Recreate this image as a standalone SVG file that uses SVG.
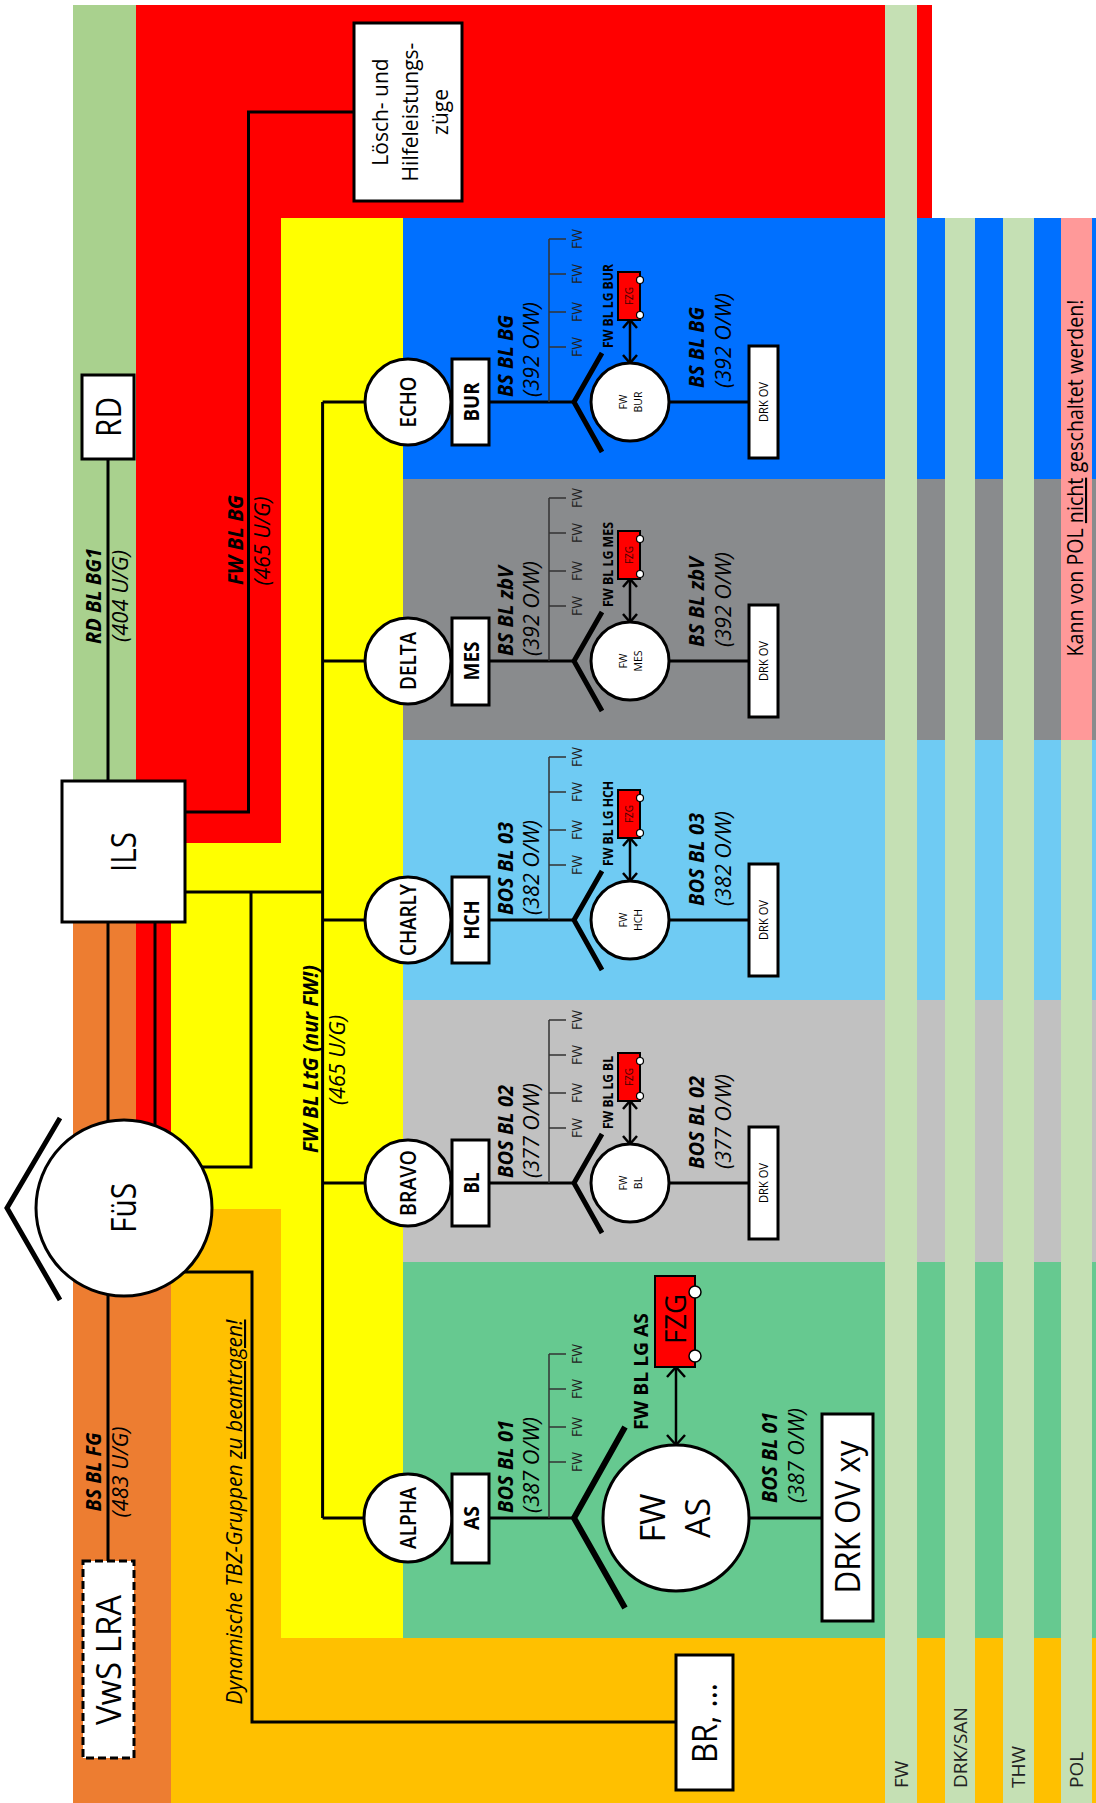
<svg xmlns="http://www.w3.org/2000/svg" width="1096" height="1803" viewBox="0 0 1096 1803">
<defs>
<style>
text{font-family:"Open Sans","Noto Sans","DejaVu Sans",sans-serif;fill:#000}
.ln{fill:none;stroke:#000;stroke-width:3}
.thin{fill:none;stroke:#333;stroke-width:1.5}
.box{fill:#fff;stroke:#000;stroke-width:3}
.cir{fill:#fff;stroke:#000;stroke-width:3}
.chev{fill:none;stroke:#000;stroke-width:5}
.fzg{fill:#ff0000;stroke:#000;stroke-width:2}
.dot{fill:#fff;stroke:#000;stroke-width:1.2}
.arr{fill:none;stroke:#000;stroke-width:2.5;marker-start:url(#ah);marker-end:url(#ah)}
.arrb{fill:none;stroke:#000;stroke-width:2.5;marker-start:url(#ahb);marker-end:url(#ahb)}
.nm{font-size:21px;font-weight:600;text-anchor:middle}
.bx{font-size:21px;font-weight:700;text-anchor:middle}
.bi{font-size:22px;font-weight:700;font-style:italic}
.it{font-size:22px;font-style:italic}
.tk{font-size:15px;text-anchor:middle;fill:#222}
.lg{font-size:13.5px;font-weight:700}
.sm{font-size:10.5px;text-anchor:middle}
.dk{font-size:12.5px;text-anchor:middle}
.fz{font-size:10px;text-anchor:middle;fill:#400}
.big{font-size:34px;text-anchor:middle}
.st{fill:#c5e0b4}
.sl{font-size:19px;fill:#222}
</style>
<marker id="ah" markerUnits="userSpaceOnUse" markerWidth="14" markerHeight="18" refX="11" refY="9" orient="auto-start-reverse"><path d="M3,2 L11,9 L3,16" fill="none" stroke="#000" stroke-width="2.5"/></marker>
<marker id="ahb" markerUnits="userSpaceOnUse" markerWidth="16" markerHeight="22" refX="13" refY="11" orient="auto-start-reverse"><path d="M3,2 L13,11 L3,20" fill="none" stroke="#000" stroke-width="2.5"/></marker>
</defs>

<g id="bands">
<rect x="73" y="5" width="63" height="800" fill="#a9d18e"/>
<rect x="136" y="5" width="796" height="213" fill="#ff0000"/>
<rect x="136" y="5" width="145" height="838" fill="#ff0000"/>
<rect x="73" y="900" width="98" height="903" fill="#ed7d31"/>
<rect x="136" y="843" width="35" height="365" fill="#ff0000"/>
<rect x="171" y="843" width="232" height="366" fill="#ffff00"/>
<rect x="171" y="1209" width="925" height="594" fill="#ffc000"/>
<rect x="281" y="218" width="122" height="1420" fill="#ffff00"/>
<rect x="403" y="218" width="693" height="261" fill="#0070ff"/>
<rect x="403" y="479" width="693" height="261" fill="#898b8d"/>
<rect x="403" y="740" width="693" height="260" fill="#6fcbf3"/>
<rect x="403" y="1000" width="693" height="262" fill="#c1c1c1"/>
<rect x="403" y="1262" width="693" height="376" fill="#66c990"/>
<rect class="st" x="885" y="5" width="32" height="1798"/>
<rect class="st" x="945" y="218" width="30" height="1585"/>
<rect class="st" x="1003" y="218" width="31" height="1585"/>
<rect class="st" x="1061" y="218" width="31" height="1585"/>
<rect x="1061" y="218" width="31" height="522" fill="#ff9999"/>
</g>

<g id="band-labels">
<text class="bi" style="font-size:21px" text-anchor="middle" textLength="96" lengthAdjust="spacingAndGlyphs" transform="translate(101,596) rotate(-90)">RD BL BG1</text>
<text class="it" text-anchor="middle" textLength="92" lengthAdjust="spacingAndGlyphs" transform="translate(128,596) rotate(-90)">(404 U/G)</text>
<text class="bi" style="font-size:21px" text-anchor="middle" textLength="90" lengthAdjust="spacingAndGlyphs" transform="translate(243,540) rotate(-90)">FW BL BG</text>
<text class="it" text-anchor="middle" textLength="89" lengthAdjust="spacingAndGlyphs" transform="translate(270,541) rotate(-90)">(465 U/G)</text>
<text class="bi" style="font-size:21px" text-anchor="middle" textLength="188" lengthAdjust="spacingAndGlyphs" transform="translate(318,1059) rotate(-90)">FW BL LtG (nur FW!)</text>
<text class="it" text-anchor="middle" textLength="90" lengthAdjust="spacingAndGlyphs" transform="translate(345,1060) rotate(-90)">(465 U/G)</text>
<text class="bi" style="font-size:21px" text-anchor="middle" textLength="79" lengthAdjust="spacingAndGlyphs" transform="translate(101,1472) rotate(-90)">BS BL FG</text>
<text class="it" text-anchor="middle" textLength="91" lengthAdjust="spacingAndGlyphs" transform="translate(128,1472) rotate(-90)">(483 U/G)</text>
<text class="it" style="font-size:21px" text-anchor="middle" textLength="385" lengthAdjust="spacingAndGlyphs" transform="translate(242,1512) rotate(-90)">Dynamische TBZ-Gruppen <tspan text-decoration="underline">zu beantragen!</tspan></text>
<text style="font-size:21px" text-anchor="middle" textLength="357" lengthAdjust="spacingAndGlyphs" transform="translate(1083,478) rotate(-90)">Kann von POL <tspan text-decoration="underline">nicht</tspan> geschaltet werden!</text>
<text class="sl" transform="translate(908,1788) rotate(-90)">FW</text>
<text class="sl" transform="translate(967,1788) rotate(-90)">DRK/SAN</text>
<text class="sl" transform="translate(1025,1788) rotate(-90)">THW</text>
<text class="sl" transform="translate(1083,1788) rotate(-90)">POL</text>
</g>

<g id="connectors">
<path class="ln" d="M108,459 V781"/>
<path class="ln" d="M354,112 H248.5 V812 H185"/>
<path class="ln" d="M185,892 H322.6"/>
<path class="ln" d="M322.6,402 V1518"/>
<path class="ln" d="M251,892 V1167 H202"/>
<path class="ln" d="M108,922 V1121"/>
<path class="ln" d="M155,922 V1126"/>
<path class="ln" d="M108,1295 V1561"/>
<path class="ln" d="M184,1272 H252 V1722 H676"/>
<path class="ln" d="M322.6,402 H365 M489,402 H574 M669,402 H749"/>
<path class="thin" d="M549,402 V239 M549,239 H566 M549,274 H566 M549,312 H566 M549,347 H566"/>
<path class="arr" d="M630,320 V363"/>
<path class="ln" d="M322.6,661 H365 M489,661 H574 M669,661 H749"/>
<path class="thin" d="M549,661 V498 M549,498 H566 M549,533 H566 M549,571 H566 M549,606 H566"/>
<path class="arr" d="M630,579 V622"/>
<path class="ln" d="M322.6,920 H365 M489,920 H574 M669,920 H749"/>
<path class="thin" d="M549,920 V757 M549,757 H566 M549,792 H566 M549,830 H566 M549,865 H566"/>
<path class="arr" d="M630,838 V881"/>
<path class="ln" d="M322.6,1183 H365 M489,1183 H574 M669,1183 H749"/>
<path class="thin" d="M549,1183 V1020 M549,1020 H566 M549,1055 H566 M549,1093 H566 M549,1128 H566"/>
<path class="arr" d="M630,1101 V1144"/>
<path class="ln" d="M322.6,1518 H364 M489,1518 H574 M749,1518 H822"/>
<path class="thin" d="M549,1518 V1354 M549,1354 H566 M549,1389 H566 M549,1427 H566 M549,1462 H566"/>
<path class="arrb" d="M676,1367 V1445"/>
</g>

<g id="loesch">
<rect class="box" x="354" y="23" width="108" height="178"/>
<text style="font-size:21px" text-anchor="middle" transform="translate(388,112) rotate(-90)">Lösch- und</text>
<text style="font-size:21px" text-anchor="middle" transform="translate(418,112) rotate(-90)">Hilfeleistungs-</text>
<text style="font-size:21px" text-anchor="middle" transform="translate(448,112) rotate(-90)">züge</text>
</g>

<g id="rd">
<rect class="box" x="82" y="375" width="52" height="84"/>
<text class="big" textLength="40" lengthAdjust="spacingAndGlyphs" transform="translate(121,417) rotate(-90)">RD</text>
</g>

<g id="ils">
<rect class="box" x="62" y="781" width="123" height="141"/>
<text class="big" textLength="40" lengthAdjust="spacingAndGlyphs" transform="translate(136,852) rotate(-90)">ILS</text>
</g>

<g id="fues">
<polyline class="chev" points="60,1118 7,1208 60,1300"/>
<circle class="cir" cx="124" cy="1208" r="88"/>
<text class="big" textLength="50" lengthAdjust="spacingAndGlyphs" transform="translate(136,1208) rotate(-90)">FüS</text>
</g>

<g id="vws-lra">
<rect x="83" y="1561" width="51" height="197" fill="#fff" stroke="#000" stroke-width="3" stroke-dasharray="8,4"/>
<text class="big" textLength="130" lengthAdjust="spacingAndGlyphs" transform="translate(121,1660) rotate(-90)">VwS LRA</text>
</g>

<g id="br">
<rect class="box" x="676" y="1655" width="57" height="135"/>
<text class="big" textLength="80" lengthAdjust="spacingAndGlyphs" transform="translate(717,1723) rotate(-90)">BR, ...</text>
</g>

<g id="echo">
<circle class="cir" cx="408" cy="402" r="43"/>
<text class="nm" textLength="51" lengthAdjust="spacingAndGlyphs" transform="translate(416,402) rotate(-90)">ECHO</text>
</g>
<g id="bur">
<rect class="box" x="452" y="359" width="37" height="86"/>
<text class="bx" textLength="39" lengthAdjust="spacingAndGlyphs" transform="translate(478.5,402) rotate(-90)">BUR</text>
</g>
<g id="fw-bur">
<polyline class="chev" points="602,353 574,402 602,452"/>
<circle class="cir" cx="630" cy="402" r="39"/>
<text class="sm" transform="translate(626.5,402) rotate(-90)">FW</text>
<text class="sm" transform="translate(641.5,402) rotate(-90)">BUR</text>
<text class="tk" textLength="20" lengthAdjust="spacingAndGlyphs" transform="translate(582,239) rotate(-90)">FW</text>
<text class="tk" textLength="20" lengthAdjust="spacingAndGlyphs" transform="translate(582,274) rotate(-90)">FW</text>
<text class="tk" textLength="20" lengthAdjust="spacingAndGlyphs" transform="translate(582,312) rotate(-90)">FW</text>
<text class="tk" textLength="20" lengthAdjust="spacingAndGlyphs" transform="translate(582,347) rotate(-90)">FW</text>
</g>
<g id="fzg-bur">
<rect class="fzg" x="618" y="272" width="22" height="48"/>
<circle class="dot" cx="640" cy="280" r="3.5"/>
<circle class="dot" cx="640" cy="315" r="3.5"/>
<text class="fz" transform="translate(632.5,296) rotate(-90)">FZG</text>
<text class="lg" textLength="84" lengthAdjust="spacingAndGlyphs" transform="translate(613,348) rotate(-90)">FW BL LG BUR</text>
</g>
<g id="drk-bur">
<rect class="box" x="749" y="346" width="29" height="112"/>
<text class="dk" textLength="40" lengthAdjust="spacingAndGlyphs" transform="translate(768,402) rotate(-90)">DRK OV</text>
</g>
<g id="lbl-echo">
<text class="bi" textLength="82" lengthAdjust="spacingAndGlyphs" transform="translate(513,397) rotate(-90)">BS BL BG</text>
<text class="it" textLength="95" lengthAdjust="spacingAndGlyphs" transform="translate(539,397) rotate(-90)">(392 O/W)</text>
<text class="bi" textLength="81" lengthAdjust="spacingAndGlyphs" transform="translate(704,388) rotate(-90)">BS BL BG</text>
<text class="it" textLength="95" lengthAdjust="spacingAndGlyphs" transform="translate(731,388) rotate(-90)">(392 O/W)</text>
</g>

<g id="delta">
<circle class="cir" cx="408" cy="661" r="43"/>
<text class="nm" textLength="58" lengthAdjust="spacingAndGlyphs" transform="translate(416,661) rotate(-90)">DELTA</text>
</g>
<g id="mes">
<rect class="box" x="452" y="618" width="37" height="87"/>
<text class="bx" textLength="39" lengthAdjust="spacingAndGlyphs" transform="translate(478.5,661) rotate(-90)">MES</text>
</g>
<g id="fw-mes">
<polyline class="chev" points="602,612 574,661 602,711"/>
<circle class="cir" cx="630" cy="661" r="39"/>
<text class="sm" transform="translate(626.5,661) rotate(-90)">FW</text>
<text class="sm" transform="translate(641.5,661) rotate(-90)">MES</text>
<text class="tk" textLength="20" lengthAdjust="spacingAndGlyphs" transform="translate(582,498) rotate(-90)">FW</text>
<text class="tk" textLength="20" lengthAdjust="spacingAndGlyphs" transform="translate(582,533) rotate(-90)">FW</text>
<text class="tk" textLength="20" lengthAdjust="spacingAndGlyphs" transform="translate(582,571) rotate(-90)">FW</text>
<text class="tk" textLength="20" lengthAdjust="spacingAndGlyphs" transform="translate(582,606) rotate(-90)">FW</text>
</g>
<g id="fzg-mes">
<rect class="fzg" x="618" y="531" width="22" height="48"/>
<circle class="dot" cx="640" cy="539" r="3.5"/>
<circle class="dot" cx="640" cy="574" r="3.5"/>
<text class="fz" transform="translate(632.5,555) rotate(-90)">FZG</text>
<text class="lg" textLength="85" lengthAdjust="spacingAndGlyphs" transform="translate(613,607) rotate(-90)">FW BL LG MES</text>
</g>
<g id="drk-mes">
<rect class="box" x="749" y="605" width="29" height="112"/>
<text class="dk" textLength="40" lengthAdjust="spacingAndGlyphs" transform="translate(768,661) rotate(-90)">DRK OV</text>
</g>
<g id="lbl-delta">
<text class="bi" textLength="90" lengthAdjust="spacingAndGlyphs" transform="translate(513,656) rotate(-90)">BS BL zbV</text>
<text class="it" textLength="95" lengthAdjust="spacingAndGlyphs" transform="translate(539,656) rotate(-90)">(392 O/W)</text>
<text class="bi" textLength="90" lengthAdjust="spacingAndGlyphs" transform="translate(704,647) rotate(-90)">BS BL zbV</text>
<text class="it" textLength="95" lengthAdjust="spacingAndGlyphs" transform="translate(731,647) rotate(-90)">(392 O/W)</text>
</g>

<g id="charly">
<circle class="cir" cx="408" cy="920" r="43"/>
<text class="nm" textLength="72" lengthAdjust="spacingAndGlyphs" transform="translate(416,920) rotate(-90)">CHARLY</text>
</g>
<g id="hch">
<rect class="box" x="452" y="877" width="37" height="86"/>
<text class="bx" textLength="39" lengthAdjust="spacingAndGlyphs" transform="translate(478.5,920) rotate(-90)">HCH</text>
</g>
<g id="fw-hch">
<polyline class="chev" points="602,871 574,920 602,970"/>
<circle class="cir" cx="630" cy="920" r="39"/>
<text class="sm" transform="translate(626.5,920) rotate(-90)">FW</text>
<text class="sm" transform="translate(641.5,920) rotate(-90)">HCH</text>
<text class="tk" textLength="20" lengthAdjust="spacingAndGlyphs" transform="translate(582,757) rotate(-90)">FW</text>
<text class="tk" textLength="20" lengthAdjust="spacingAndGlyphs" transform="translate(582,792) rotate(-90)">FW</text>
<text class="tk" textLength="20" lengthAdjust="spacingAndGlyphs" transform="translate(582,830) rotate(-90)">FW</text>
<text class="tk" textLength="20" lengthAdjust="spacingAndGlyphs" transform="translate(582,865) rotate(-90)">FW</text>
</g>
<g id="fzg-hch">
<rect class="fzg" x="618" y="790" width="22" height="48"/>
<circle class="dot" cx="640" cy="798" r="3.5"/>
<circle class="dot" cx="640" cy="833" r="3.5"/>
<text class="fz" transform="translate(632.5,814) rotate(-90)">FZG</text>
<text class="lg" textLength="85" lengthAdjust="spacingAndGlyphs" transform="translate(613,866) rotate(-90)">FW BL LG HCH</text>
</g>
<g id="drk-hch">
<rect class="box" x="749" y="864" width="29" height="112"/>
<text class="dk" textLength="40" lengthAdjust="spacingAndGlyphs" transform="translate(768,920) rotate(-90)">DRK OV</text>
</g>
<g id="lbl-charly">
<text class="bi" textLength="93" lengthAdjust="spacingAndGlyphs" transform="translate(513,915) rotate(-90)">BOS BL 03</text>
<text class="it" textLength="95" lengthAdjust="spacingAndGlyphs" transform="translate(539,915) rotate(-90)">(382 O/W)</text>
<text class="bi" textLength="93" lengthAdjust="spacingAndGlyphs" transform="translate(704,906) rotate(-90)">BOS BL 03</text>
<text class="it" textLength="95" lengthAdjust="spacingAndGlyphs" transform="translate(731,906) rotate(-90)">(382 O/W)</text>
</g>

<g id="bravo">
<circle class="cir" cx="408" cy="1183" r="43"/>
<text class="nm" textLength="66" lengthAdjust="spacingAndGlyphs" transform="translate(416,1183) rotate(-90)">BRAVO</text>
</g>
<g id="bl">
<rect class="box" x="452" y="1140" width="37" height="86"/>
<text class="bx" textLength="21" lengthAdjust="spacingAndGlyphs" transform="translate(478.5,1183) rotate(-90)">BL</text>
</g>
<g id="fw-bl">
<polyline class="chev" points="602,1134 574,1183 602,1233"/>
<circle class="cir" cx="630" cy="1183" r="39"/>
<text class="sm" transform="translate(626.5,1183) rotate(-90)">FW</text>
<text class="sm" transform="translate(641.5,1183) rotate(-90)">BL</text>
<text class="tk" textLength="20" lengthAdjust="spacingAndGlyphs" transform="translate(582,1020) rotate(-90)">FW</text>
<text class="tk" textLength="20" lengthAdjust="spacingAndGlyphs" transform="translate(582,1055) rotate(-90)">FW</text>
<text class="tk" textLength="20" lengthAdjust="spacingAndGlyphs" transform="translate(582,1093) rotate(-90)">FW</text>
<text class="tk" textLength="20" lengthAdjust="spacingAndGlyphs" transform="translate(582,1128) rotate(-90)">FW</text>
</g>
<g id="fzg-bl">
<rect class="fzg" x="618" y="1053" width="22" height="48"/>
<circle class="dot" cx="640" cy="1061" r="3.5"/>
<circle class="dot" cx="640" cy="1096" r="3.5"/>
<text class="fz" transform="translate(632.5,1077) rotate(-90)">FZG</text>
<text class="lg" textLength="73" lengthAdjust="spacingAndGlyphs" transform="translate(613,1129) rotate(-90)">FW BL LG BL</text>
</g>
<g id="drk-bl">
<rect class="box" x="749" y="1127" width="29" height="112"/>
<text class="dk" textLength="40" lengthAdjust="spacingAndGlyphs" transform="translate(768,1183) rotate(-90)">DRK OV</text>
</g>
<g id="lbl-bravo">
<text class="bi" textLength="93" lengthAdjust="spacingAndGlyphs" transform="translate(513,1178) rotate(-90)">BOS BL 02</text>
<text class="it" textLength="95" lengthAdjust="spacingAndGlyphs" transform="translate(539,1178) rotate(-90)">(377 O/W)</text>
<text class="bi" textLength="93" lengthAdjust="spacingAndGlyphs" transform="translate(704,1169) rotate(-90)">BOS BL 02</text>
<text class="it" textLength="95" lengthAdjust="spacingAndGlyphs" transform="translate(731,1169) rotate(-90)">(377 O/W)</text>
</g>

<g id="alpha">
<circle class="cir" cx="408" cy="1518" r="44"/>
<text class="nm" textLength="62" lengthAdjust="spacingAndGlyphs" transform="translate(416,1518) rotate(-90)">ALPHA</text>
</g>
<g id="as">
<rect class="box" x="452" y="1474" width="37" height="89"/>
<text class="bx" textLength="24" lengthAdjust="spacingAndGlyphs" transform="translate(478.5,1518) rotate(-90)">AS</text>
</g>
<g id="fw-as">
<polyline class="chev" style="stroke-width:6" points="625,1427 574,1518 625,1608"/>
<circle class="cir" cx="676" cy="1518" r="73"/>
<text class="big" transform="translate(665,1518) rotate(-90)">FW</text>
<text class="big" transform="translate(710,1518) rotate(-90)">AS</text>
<text class="tk" textLength="20" lengthAdjust="spacingAndGlyphs" transform="translate(582,1354) rotate(-90)">FW</text>
<text class="tk" textLength="20" lengthAdjust="spacingAndGlyphs" transform="translate(582,1389) rotate(-90)">FW</text>
<text class="tk" textLength="20" lengthAdjust="spacingAndGlyphs" transform="translate(582,1427) rotate(-90)">FW</text>
<text class="tk" textLength="20" lengthAdjust="spacingAndGlyphs" transform="translate(582,1462) rotate(-90)">FW</text>
</g>
<g id="fzg-as">
<rect class="fzg" x="655" y="1276" width="40" height="91"/>
<circle class="dot" cx="695" cy="1292" r="6" style="stroke-width:1.5"/>
<circle class="dot" cx="695" cy="1356" r="6" style="stroke-width:1.5"/>
<text style="font-size:30px" text-anchor="middle" textLength="50" lengthAdjust="spacingAndGlyphs" transform="translate(686,1319) rotate(-90)">FZG</text>
<text class="lg" style="font-size:20px" textLength="117" lengthAdjust="spacingAndGlyphs" transform="translate(648,1430) rotate(-90)">FW BL LG AS</text>
</g>
<g id="drk-as">
<rect class="box" x="822" y="1414" width="51" height="207"/>
<text class="big" textLength="153" lengthAdjust="spacingAndGlyphs" transform="translate(860,1517) rotate(-90)">DRK OV xy</text>
</g>
<g id="lbl-alpha">
<text class="bi" textLength="93" lengthAdjust="spacingAndGlyphs" transform="translate(513,1513) rotate(-90)">BOS BL 01</text>
<text class="it" textLength="96" lengthAdjust="spacingAndGlyphs" transform="translate(539,1513) rotate(-90)">(387 O/W)</text>
<text class="bi" textLength="91" lengthAdjust="spacingAndGlyphs" transform="translate(777,1503) rotate(-90)">BOS BL 01</text>
<text class="it" textLength="95" lengthAdjust="spacingAndGlyphs" transform="translate(804,1503) rotate(-90)">(387 O/W)</text>
</g>
</svg>
